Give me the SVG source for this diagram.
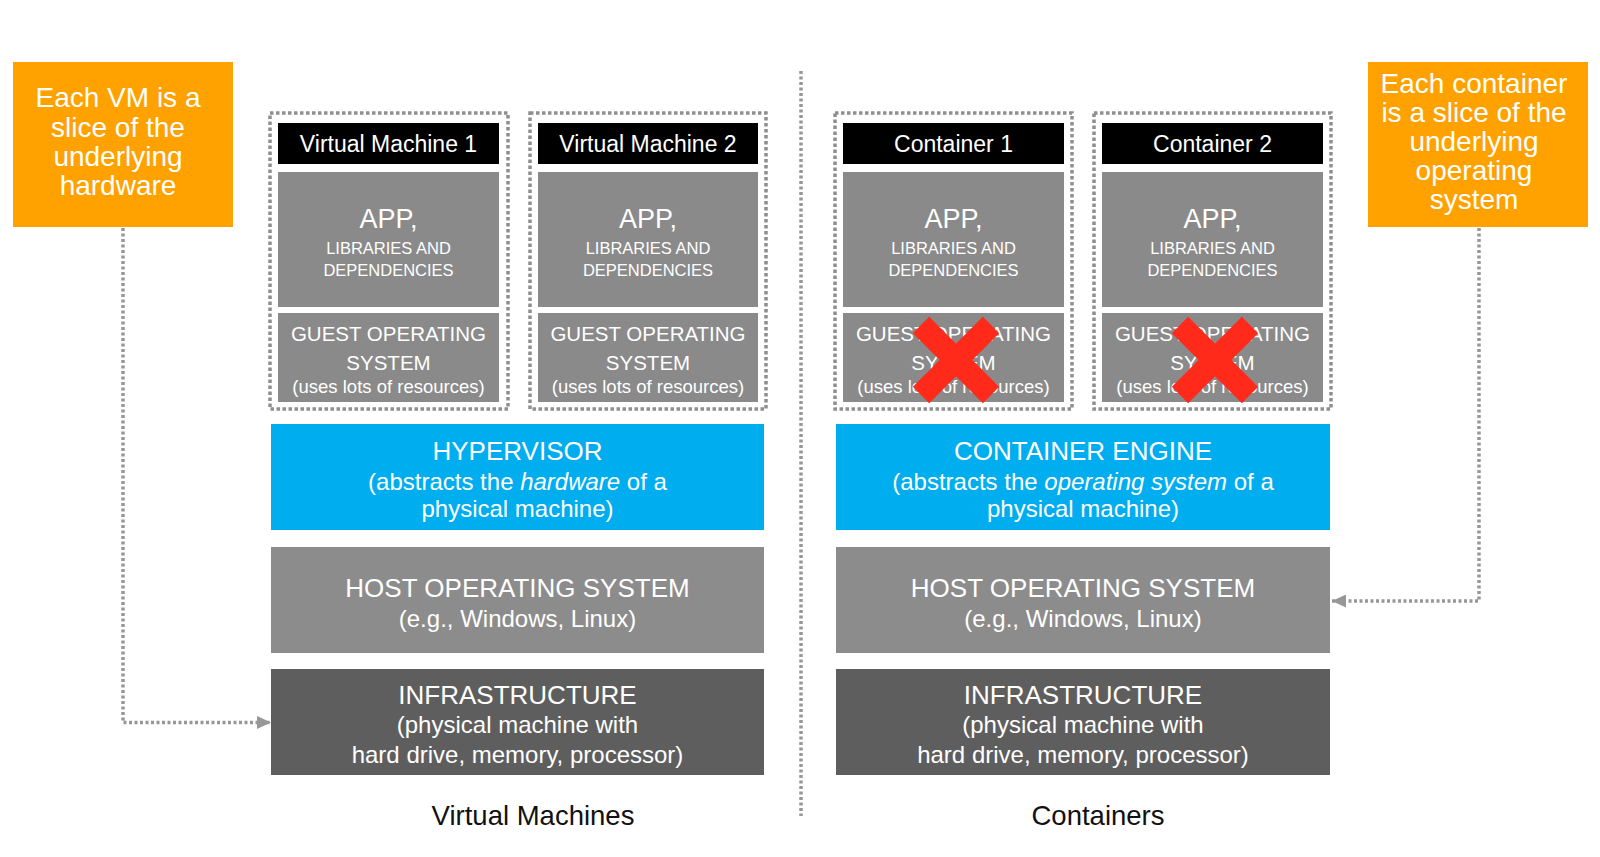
<svg xmlns="http://www.w3.org/2000/svg" width="1600" height="857" viewBox="0 0 1600 857">
<defs>
<style>
.t{font-family:'Liberation Sans',Arial,sans-serif;fill:#fff;text-anchor:middle}
.k{font-family:'Liberation Sans',Arial,sans-serif;fill:#111;text-anchor:middle}
.dot{fill:none;stroke:#8f8f8f;stroke-width:3.5;stroke-dasharray:3.5 2.5}
.con{fill:none;stroke:#979797;stroke-width:3.5;stroke-dasharray:3 2.5}
.hdr{fill:#000}
.g1{fill:#8a8a8a}
.g2{fill:#8c8c8c}
.g3{fill:#5e5e5e}
.blue{fill:#00adef}
.org{fill:#ffa200}
.x{stroke:#ff2a1a;stroke-width:23}
.h{font-size:23px}
.app{font-size:27px}
.lib{font-size:16.5px}
.gos{font-size:20.5px}
.use{font-size:18.5px}
.big{font-size:26px}
.body{font-size:24px}
.note{font-size:28px}
.lbl{font-size:27.5px}
</style>
<marker id="arr" viewBox="0 0 14 13" refX="14" refY="6.5" markerWidth="14" markerHeight="13" orient="auto" markerUnits="userSpaceOnUse">
<path d="M0,0 L14,6.5 L0,13 z" fill="#979797"/>
</marker>
</defs>
<rect width="1600" height="857" fill="#fff"/>

<g id="connectors">
<path class="con" d="M801,71 V816"/>
<path class="con" d="M123,228 V722.5 H271" marker-end="url(#arr)"/>
<path class="con" d="M1479,228 V601 H1332" marker-end="url(#arr)"/>
</g>

<g id="note-vm">
<rect class="org" x="13" y="62" width="220" height="165"/>
<text class="t note" x="118" y="107">Each VM is a</text>
<text class="t note" x="118" y="136.5">slice of the</text>
<text class="t note" x="118" y="166">underlying</text>
<text class="t note" x="118" y="195">hardware</text>
</g>

<g id="note-container">
<rect class="org" x="1368" y="62" width="220" height="165"/>
<text class="t note" x="1474" y="93">Each container</text>
<text class="t note" x="1474" y="122">is a slice of the</text>
<text class="t note" x="1474" y="151">underlying</text>
<text class="t note" x="1474" y="180">operating</text>
<text class="t note" x="1474" y="209">system</text>
</g>

<g id="vm1">
<rect class="dot" x="270" y="113" width="238" height="296"/>
<rect class="hdr" x="278" y="123" width="221" height="41"/>
<text class="t h" x="388.5" y="152">Virtual Machine 1</text>
<rect class="g1" x="278" y="172" width="221" height="135"/>
<text class="t app" x="388.5" y="228">APP,</text>
<text class="t lib" x="388.5" y="254">LIBRARIES AND</text>
<text class="t lib" x="388.5" y="276">DEPENDENCIES</text>
<rect class="g1" x="278" y="313" width="221" height="89"/>
<text class="t gos" x="388.5" y="341">GUEST OPERATING</text>
<text class="t gos" x="388.5" y="370">SYSTEM</text>
<text class="t use" x="388.5" y="393">(uses lots of resources)</text>
</g>

<g id="vm2">
<rect class="dot" x="530" y="113" width="236" height="296"/>
<rect class="hdr" x="538" y="123" width="220" height="41"/>
<text class="t h" x="648" y="152">Virtual Machine 2</text>
<rect class="g1" x="538" y="172" width="220" height="135"/>
<text class="t app" x="648" y="228">APP,</text>
<text class="t lib" x="648" y="254">LIBRARIES AND</text>
<text class="t lib" x="648" y="276">DEPENDENCIES</text>
<rect class="g1" x="538" y="313" width="220" height="89"/>
<text class="t gos" x="648" y="341">GUEST OPERATING</text>
<text class="t gos" x="648" y="370">SYSTEM</text>
<text class="t use" x="648" y="393">(uses lots of resources)</text>
</g>

<g id="container1">
<rect class="dot" x="835" y="113" width="237" height="296"/>
<rect class="hdr" x="843" y="123" width="221" height="41"/>
<text class="t h" x="953.5" y="152">Container 1</text>
<rect class="g1" x="843" y="172" width="221" height="135"/>
<text class="t app" x="953.5" y="228">APP,</text>
<text class="t lib" x="953.5" y="254">LIBRARIES AND</text>
<text class="t lib" x="953.5" y="276">DEPENDENCIES</text>
<rect class="g1" x="843" y="313" width="221" height="89"/>
<text class="t gos" x="953.5" y="341">GUEST OPERATING</text>
<text class="t gos" x="953.5" y="370">SYSTEM</text>
<text class="t use" x="953.5" y="393">(uses lots of resources)</text>
<path class="x" d="M921,325 L991,395 M991,325 L921,395"/>
</g>

<g id="container2">
<rect class="dot" x="1094" y="113" width="237" height="296"/>
<rect class="hdr" x="1102" y="123" width="221" height="41"/>
<text class="t h" x="1212.5" y="152">Container 2</text>
<rect class="g1" x="1102" y="172" width="221" height="135"/>
<text class="t app" x="1212.5" y="228">APP,</text>
<text class="t lib" x="1212.5" y="254">LIBRARIES AND</text>
<text class="t lib" x="1212.5" y="276">DEPENDENCIES</text>
<rect class="g1" x="1102" y="313" width="221" height="89"/>
<text class="t gos" x="1212.5" y="341">GUEST OPERATING</text>
<text class="t gos" x="1212.5" y="370">SYSTEM</text>
<text class="t use" x="1212.5" y="393">(uses lots of resources)</text>
<path class="x" d="M1180,325 L1250,395 M1250,325 L1180,395"/>
</g>

<g id="hypervisor">
<rect class="blue" x="271" y="424" width="493" height="106"/>
<text class="t big" x="517.5" y="460">HYPERVISOR</text>
<text class="t body" x="517.5" y="490">(abstracts the <tspan font-style="italic">hardware</tspan> of a</text>
<text class="t body" x="517.5" y="517">physical machine)</text>
</g>

<g id="host-os-vm">
<rect class="g2" x="271" y="547" width="493" height="106"/>
<text class="t big" x="517.5" y="597">HOST OPERATING SYSTEM</text>
<text class="t body" x="517.5" y="627">(e.g., Windows, Linux)</text>
</g>

<g id="infra-vm">
<rect class="g3" x="271" y="669" width="493" height="106"/>
<text class="t big" x="517.5" y="704">INFRASTRUCTURE</text>
<text class="t body" x="517.5" y="733">(physical machine with</text>
<text class="t body" x="517.5" y="763">hard drive, memory, processor)</text>
</g>

<g id="container-engine">
<rect class="blue" x="836" y="424" width="494" height="106"/>
<text class="t big" x="1083" y="460">CONTAINER ENGINE</text>
<text class="t body" x="1083" y="490">(abstracts the <tspan font-style="italic">operating system</tspan> of a</text>
<text class="t body" x="1083" y="517">physical machine)</text>
</g>

<g id="host-os-container">
<rect class="g2" x="836" y="547" width="494" height="106"/>
<text class="t big" x="1083" y="597">HOST OPERATING SYSTEM</text>
<text class="t body" x="1083" y="627">(e.g., Windows, Linux)</text>
</g>

<g id="infra-container">
<rect class="g3" x="836" y="669" width="494" height="106"/>
<text class="t big" x="1083" y="704">INFRASTRUCTURE</text>
<text class="t body" x="1083" y="733">(physical machine with</text>
<text class="t body" x="1083" y="763">hard drive, memory, processor)</text>
</g>

<g id="labels">
<text class="k lbl" x="533" y="825">Virtual Machines</text>
<text class="k lbl" x="1098" y="825">Containers</text>
</g>
</svg>
